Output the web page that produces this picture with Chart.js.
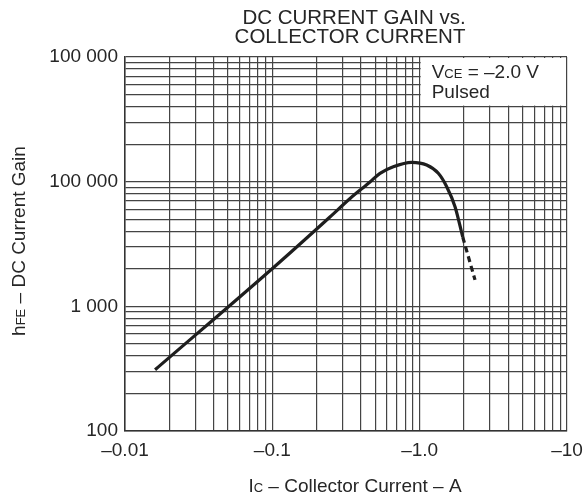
<!DOCTYPE html>
<html>
<head>
<meta charset="utf-8">
<script src="https://cdn.jsdelivr.net/npm/chart.js@4.4.1/dist/chart.umd.min.js"></script>
<style>
  html, body { margin: 0; padding: 0; background: #fff; }
  canvas { display: block; }
</style>
</head>
<body>
<canvas id="gainChart" width="587" height="502"></canvas>
<script>
// collector current (A) and hFE
const icSolid = [-0.016, -0.1015, -0.246, -0.337, -0.46, -0.538, -0.662, -0.883, -1.116, -1.338, -1.526, -1.738, -1.96];
const hfeSolid = [310, 2040, 5210, 7330, 9940, 11670, 13180, 14300, 13600, 11670, 9110, 6300, 3600];
// dashed tail of the curve
const icDashed = [-1.96, -2.375];
const hfeDashed = [3600, 1630];

const xTickValues = [0.01, 0.1, 1, 10];
const xTickLabels = ['–0.01', '–0.1', '–1.0', '–10'];
const yTickValues = [100, 1000, 10000, 100000];
const yTickLabels = ['100', '1 000', '100 000', '100 000'];

const FONT = "'Liberation Sans', Arial, sans-serif";
const INK = '#262626';
const GRID = '#444';

Chart.defaults.font.family = FONT;
Chart.defaults.color = INK;

// every 1..9 x 10^n line for the log grid
function logGrid(min, max) {
    const out = [];
    for (let e = Math.round(Math.log10(min)); e < Math.round(Math.log10(max)); e++) {
        for (let k = 1; k < 10; k++) out.push(Number((k * Math.pow(10, e)).toPrecision(3)));
    }
    out.push(max);
    return out;
}

function labelFor(value, values, labels) {
    const i = values.findIndex(v => Math.abs(Math.log10(v) - Math.log10(value)) < 1e-6);
    return i >= 0 ? labels[i] : '';
}

function drawRuns(ctx, runs, x, y, align) {
    let total = 0;
    runs.forEach(r => { ctx.font = r[1] + 'px ' + FONT; total += ctx.measureText(r[0]).width; });
    let cx = align === 'center' ? x - total / 2 : x;
    ctx.textAlign = 'left';
    ctx.textBaseline = 'alphabetic';
    runs.forEach(r => {
        ctx.font = r[1] + 'px ' + FONT;
        ctx.fillText(r[0], cx, y);
        cx += ctx.measureText(r[0]).width;
    });
}

const noteBox = {
    id: 'noteBox',
    beforeDatasetsDraw(chart) {
        const ctx = chart.ctx;
        const xs = chart.scales.x, ys = chart.scales.y;
        const l = xs.getPixelForValue(1), r = xs.getPixelForValue(10);
        const t = ys.getPixelForValue(100000), b = ys.getPixelForValue(40000);
        ctx.save();
        ctx.fillStyle = '#fff';
        ctx.fillRect(l + 1, t + 1, r - l - 2, b - t - 2);
        ctx.fillStyle = INK;
        drawRuns(ctx, [['V', 19], ['CE', 13], [' = –2.0 V', 19]], l + 12, t + 21);
        drawRuns(ctx, [['Pulsed', 19]], l + 12, t + 41);
        ctx.restore();
    }
};

const texts = {
    id: 'texts',
    afterDraw(chart) {
        const ctx = chart.ctx;
        ctx.save();
        ctx.fillStyle = INK;
        drawRuns(ctx, [['DC CURRENT GAIN vs.', 20.5]], 354, 23.5, 'center');
        drawRuns(ctx, [['COLLECTOR CURRENT', 20.5]], 350, 43, 'center');
        drawRuns(ctx, [['I', 19], ['C', 13], [' – Collector Current – A', 19]], 355, 492, 'center');
        ctx.translate(25, 241);
        ctx.rotate(-Math.PI / 2);
        drawRuns(ctx, [['h', 19], ['FE', 13], [' – DC Current Gain', 19]], 0, 0, 'center');
        ctx.restore();
    }
};

const axisCommon = {
    type: 'logarithmic',
    grid: { color: GRID, lineWidth: 1.2, drawTicks: false },
    border: { display: true, color: '#333', width: 1.5 },
};

new Chart(document.getElementById('gainChart').getContext('2d'), {
    type: 'line',
    data: {
        datasets: [
            {
                data: icSolid.map((v, i) => ({ x: Math.abs(v), y: hfeSolid[i] })),
                borderColor: '#1e1e1e',
                borderWidth: 3.2,
                pointRadius: 0,
                cubicInterpolationMode: 'monotone',
            },
            {
                data: icDashed.map((v, i) => ({ x: Math.abs(v), y: hfeDashed[i] })),
                borderColor: '#1e1e1e',
                borderWidth: 3.2,
                borderDash: [6, 4],
                pointRadius: 0,
            },
        ],
    },
    options: {
        responsive: false,
        animation: false,
        layout: { padding: { top: 57, right: 20, bottom: 0, left: 0 } },
        plugins: {
            legend: { display: false },
            tooltip: { enabled: false },
        },
        scales: {
            x: {
                ...axisCommon,
                min: 0.01,
                max: 10,
                afterBuildTicks: scale => { scale.ticks = logGrid(0.01, 10).map(v => ({ value: v })); },
                afterFit: scale => { scale.height = 71; scale.paddingLeft = 0; scale.paddingRight = 0; },
                ticks: {
                    autoSkip: false,
                    maxRotation: 0,
                    padding: 8,
                    font: { size: 19 },
                    callback: value => labelFor(value, xTickValues, xTickLabels),
                },
            },
            y: {
                ...axisCommon,
                min: 100,
                max: 100000,
                afterBuildTicks: scale => { scale.ticks = logGrid(100, 100000).map(v => ({ value: v })); },
                afterFit: scale => { scale.width = 125; scale.paddingTop = 0; scale.paddingBottom = 0; },
                ticks: {
                    autoSkip: false,
                    padding: 7,
                    font: { size: 19 },
                    callback: value => labelFor(value, yTickValues, yTickLabels),
                },
            },
        },
    },
    plugins: [noteBox, texts],
});
</script>
</body>
</html>
